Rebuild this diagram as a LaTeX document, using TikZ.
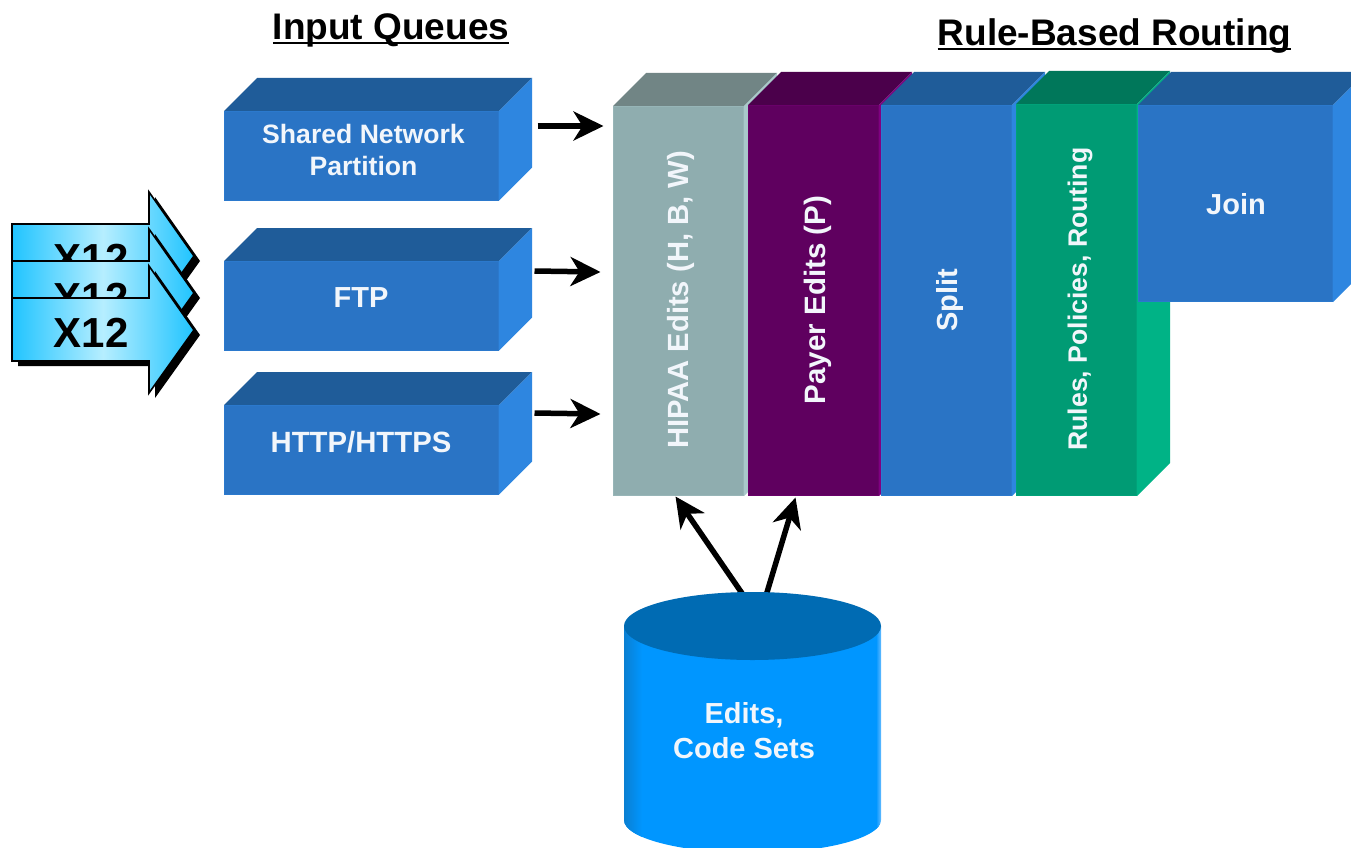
\documentclass[tikz,border=0pt]{standalone}
\usepackage{fontspec}
\setmainfont{Liberation Sans}
\usetikzlibrary{arrows.meta,shapes.geometric}
\definecolor{bfront}{HTML}{2A74C5}
\definecolor{btop}{HTML}{1F5C99}
\definecolor{bside}{HTML}{2E86E0}
\definecolor{gfront}{HTML}{8FADAF}
\definecolor{gtop}{HTML}{718585}
\definecolor{gside}{HTML}{A9C8CA}
\definecolor{pfront}{HTML}{5F005F}
\definecolor{ptop}{HTML}{4B004B}
\definecolor{pside}{HTML}{800080}
\definecolor{tfront}{HTML}{009B74}
\definecolor{ttop}{HTML}{00775A}
\definecolor{tside}{HTML}{00B386}
\definecolor{cylbody}{HTML}{0096FF}
\definecolor{cylleft}{HTML}{0A7FD2}
\definecolor{cylright}{HTML}{66BBFF}
\definecolor{cyltop}{HTML}{006BB3}
\definecolor{xedge}{HTML}{20C4FF}
\definecolor{xmid}{HTML}{B6EEFF}
\definecolor{txt}{HTML}{F2F6FB}
\tikzset{
  facebox/.style={rectangle,inner sep=0pt,outer sep=0pt,fill=#1front,draw=#1front!70!#1side,line width=1pt},
  lbl/.style={text=txt,font=\fontsize{#1}{32}\selectfont\bfseries,align=center,inner sep=0pt},
  vlbl/.style={lbl=#1,rotate=90},
  title/.style={font=\fontsize{37}{40}\selectfont\bfseries,inner sep=0pt,anchor=base},
  conn/.style={line width=5.5pt,black,-{Stealth[length=30pt,width=29pt,inset=9pt]}},
}
\newcommand{\ulinetitle}[1]{\setbox0\hbox{#1}\rlap{\rule[-5pt]{\wd0}{2.6pt}}\box0 }
% #1 colour prefix, #2 x left, #3 y top, #4 x right, #5 y bottom
\newcommand{\boxfaces}[5]{%
  \fill[#1top] (#2,#3) -- (#2+33,#3-33) -- (#4+33,#3-33) -- (#4,#3) -- cycle;
  \fill[#1side] (#4,#3) -- (#4+33,#3-33) -- (#4+33,#5-33) -- (#4,#5) -- cycle;
}
% #1 vertical offset
\newcommand{\xarrowpath}[1]{%
  (12,298+#1) -- (149,298+#1) -- (149,266+#1) -- (194,330+#1) -- (149,393+#1) -- (149,361+#1) -- (12,361+#1) -- cycle
}
\newcommand{\xarrow}[3]{%
  \fill[black,shift={(6,5)}] \xarrowpath{#1};
  \shade[left color=xedge,right color=xedge,middle color=xmid] \xarrowpath{#1};
  \draw[black,line width=1.6pt,line join=miter] \xarrowpath{#1};
  \node[font=\fontsize{42}{46}\selectfont\bfseries,inner sep=0pt,anchor=base,text=black] (#2) at (91,#3) {X12};
}
\begin{document}
\begin{tikzpicture}[x=1pt,y=-1pt]
\useasboundingbox (0,0) rectangle (1351,848);
\clip (0,0) rectangle (1351,848);
\fill[white] (0,0) rectangle (1351,848);

% titles
\node[title] (t1) at (391,39.5) {\ulinetitle{Input Queues}};
\node[title] (t2) at (1114.5,45.5) {\ulinetitle{Rule-Based Routing}};

% X12 arrows
\xarrow{-74}{x1}{273}
\xarrow{-37}{x2}{312}
\xarrow{0}{x3}{347}

% queues
\boxfaces{b}{224}{111}{499}{200.5}
\node[facebox=b,minimum width=274pt,minimum height=89pt] (shared) at (361.5,156) {};
\node[lbl=26.6] (sharedt) at (363.5,150) {Shared Network\\Partition};
\boxfaces{b}{224}{261}{499}{350.5}
\node[facebox=b,minimum width=274pt,minimum height=89pt] (ftp) at (361.5,306) {};
\node[lbl=29] (ftpt) at (361,298) {FTP};
\boxfaces{b}{224}{405}{499}{494.5}
\node[facebox=b,minimum width=274pt,minimum height=89pt] (http) at (361.5,450) {};
\node[lbl=29.3] (httpt) at (361,442) {HTTP/HTTPS};

% columns
\boxfaces{g}{613}{106}{744}{496}
\node[facebox=g,minimum width=130pt,minimum height=389pt] (hipaa) at (678.5,301) {};
\boxfaces{p}{748}{105}{879}{496}
\node[facebox=p,minimum width=130pt,minimum height=390pt] (payer) at (813.5,300.5) {};
\boxfaces{b}{881}{105}{1012}{496}
\node[facebox=b,minimum width=130pt,minimum height=390pt] (split) at (946.5,300.5) {};
\boxfaces{t}{1016}{104}{1137}{496}
\node[facebox=t,minimum width=120pt,minimum height=391pt] (rules) at (1076.5,300) {};
\boxfaces{b}{1138}{105}{1333}{302}
\node[facebox=b,minimum width=194pt,minimum height=196pt] (join) at (1235.5,203.5) {};
\node[vlbl=29.2] (hipaat) at (681,300) {HIPAA Edits (H, B, W)};
\node[vlbl=29.5] (payert) at (817.5,300) {Payer Edits (P)};
\node[vlbl=29] (splitt) at (949.5,300) {Split};
\node[vlbl=26.6] (rulest) at (1080,299) {Rules, Policies, Routing};
\node[lbl=29] (joint) at (1236,204) {Join};

% cylinder
\node[ellipse,inner sep=0pt,outer sep=0pt,minimum width=257pt,minimum height=68pt] (dbtop) at (752.5,626) {};
\draw[conn] ([xshift=-10pt,yshift=-2pt]dbtop.north) -- ([xshift=-3pt,yshift=-1pt]hipaa.south);
\draw[conn] ([xshift=14pt,yshift=-2pt]dbtop.north) -- ([xshift=-18pt,yshift=-2pt]payer.south);
\begin{scope}
  \path[clip] (624,626) -- (624,820) arc[start angle=180,end angle=360,x radius=128.5,y radius=-33]
    -- (881,626) -- cycle;
  \fill[cylbody] (624,590) rectangle (881,848);
  \shade[left color=cylleft,right color=cylbody] (624,590) rectangle (642,848);
  \shade[left color=cylbody,right color=cylright] (876,590) rectangle (881,848);
\end{scope}
\fill[cyltop] (dbtop.center) ellipse[x radius=128.5,y radius=34];
\node[lbl=29] (dbt) at (744,730.5) {Edits,\\[3pt]Code Sets};

% queue arrows
\draw[conn] ([xshift=39pt,yshift=30pt]shared.east) -- ([xshift=-10pt,yshift=175pt]hipaa.west);
\draw[conn] ([xshift=36pt,yshift=35pt]ftp.east) -- ([xshift=-13pt,yshift=29pt]hipaa.west);
\draw[conn] ([xshift=36pt,yshift=37pt]http.east) -- ([xshift=-13pt,yshift=-113pt]hipaa.west);
\end{tikzpicture}
\end{document}
